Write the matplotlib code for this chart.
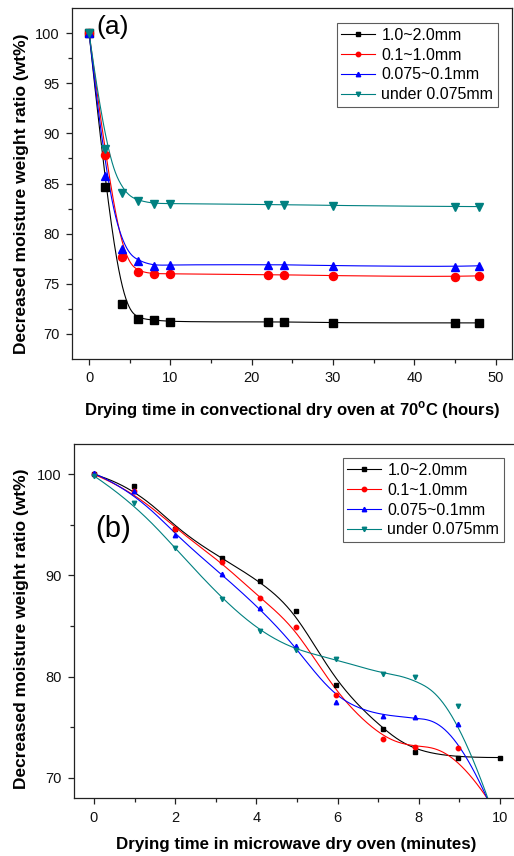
import numpy as np
import matplotlib
matplotlib.use("Agg")
import matplotlib.pyplot as plt

plt.rcParams['font.family'] = ['Liberation Sans', 'DejaVu Sans']
plt.rcParams['mathtext.fontset'] = 'custom'
plt.rcParams['mathtext.rm'] = 'Liberation Sans'
plt.rcParams['mathtext.bf'] = 'Liberation Sans:bold'

# ---------------- data ----------------
series_labels = ["1.0~2.0mm", "0.1~1.0mm", "0.075~0.1mm", "under 0.075mm"]

# (a) convectional dry oven, hours
hours = [0, 2, 4, 6, 8, 10, 22, 24, 30, 45, 48]
a_coarse = [100, 84.7, 73.0, 71.5, 71.4, 71.2, 71.2, 71.2, 71.1, 71.1, 71.1]
a_medium = [100, 87.8, 77.7, 76.2, 76.0, 76.0, 75.9, 75.9, 75.8, 75.7, 75.8]
a_fine = [100, 85.7, 78.5, 77.3, 76.8, 76.9, 76.9, 76.9, 76.8, 76.7, 76.8]
a_finest = [100, 88.4, 84.1, 83.3, 83.0, 83.0, 82.9, 82.9, 82.8, 82.7, 82.7]

# (b) microwave dry oven, minutes
minutes = [0, 0.98, 2.0, 3.15, 4.08, 4.97, 5.97, 7.12, 7.9, 8.96, 10.0]
b_coarse = [100, 98.85, 94.6, 91.7, 89.45, 86.5, 79.2, 74.8, 72.5, 72.0, 72.0]
b_medium = [100, 98.35, 94.6, 91.3, 87.8, 84.9, 78.2, 73.8, 73.0, 72.9, 66.0]
b_fine = [100.1, 98.35, 94.0, 90.1, 86.75, 83.0, 77.5, 76.1, 76.0, 75.3, 65.0]
b_finest = [99.85, 97.2, 92.7, 87.7, 84.5, 82.6, 81.7, 80.25, 80.0, 77.1, 64.5]

colors = ["#000000", "#ff0000", "#0000ff", "#008080"]
markers = ["s", "o", "^", "v"]


def bspline(x, y, samples=600, k=3):
    """Clamped cubic B-spline using the data points as control points."""
    P = np.column_stack([x, y]).astype(float)
    n = len(P)
    t = np.concatenate([np.zeros(k + 1), np.arange(1, n - k), np.full(k + 1, n - k)]).astype(float)
    u = np.linspace(0, n - k, samples)
    u[-1] -= 1e-9
    N = np.zeros((samples, len(t) - 1))
    for i in range(len(t) - 1):
        N[:, i] = ((t[i] <= u) & (u < t[i + 1])).astype(float)
    for d in range(1, k + 1):
        Nn = np.zeros((samples, len(t) - 1 - d))
        for i in range(len(t) - 1 - d):
            term = np.zeros(samples)
            den1 = t[i + d] - t[i]
            den2 = t[i + d + 1] - t[i + 1]
            if den1 > 0:
                term += (u - t[i]) / den1 * N[:, i]
            if den2 > 0:
                term += (t[i + d + 1] - u) / den2 * N[:, i + 1]
            Nn[:, i] = term
        N = Nn
    C = N @ P
    return C[:, 0], C[:, 1]


W, H = 514, 856
fig = plt.figure(figsize=(W / 100, H / 100), dpi=100)

spine_col = "#222222"


def style_axes(ax):
    for s in ax.spines.values():
        s.set_color(spine_col)
        s.set_linewidth(0.9)
    ax.tick_params(which='both', direction='out', top=False, right=False,
                   colors=spine_col, labelcolor='#111111', labelsize=10.5)
    ax.tick_params(which='major', length=4.5, width=0.9, pad=4.5)
    ax.tick_params(which='minor', length=3, width=0.9)


# ---------------- panel (a) ----------------
axa = fig.add_axes([72 / W, 1 - 359 / H, 440 / W, 351 / H])
a_series = [a_coarse, a_medium, a_fine, a_finest]
for ys, c, m, lab in zip(a_series, colors, markers, series_labels):
    sx, sy = bspline(hours, ys)
    axa.plot(sx, sy, color=c, lw=0.8, zorder=2)
    axa.plot(hours, ys, linestyle='none', marker=m, color=c, markersize=5.8, zorder=3)
    axa.plot([], [], color=c, lw=0.8, marker=m, markersize=3.2, label=lab)
axa.set_xlim(-2.1, 52)
axa.set_ylim(67.5, 102.5)
axa.set_xticks([0, 10, 20, 30, 40, 50])
axa.set_xticks([5, 15, 25, 35, 45], minor=True)
axa.set_yticks([70, 75, 80, 85, 90, 95, 100])
axa.set_yticks([72.5, 77.5, 82.5, 87.5, 92.5, 97.5], minor=True)
style_axes(axa)
leg = axa.legend(loc='upper right', bbox_to_anchor=(0.968, 0.957), borderaxespad=0,
                 fontsize=11.5, handlelength=2.1, handletextpad=0.4, labelspacing=0.3,
                 borderpad=0.3, frameon=True, fancybox=False)
leg.get_frame().set_edgecolor('#333333')
leg.get_frame().set_linewidth(0.8)
fig.text(113 / W, 1 - 27 / H, "(a)", fontsize=19, ha='center', va='center')
fig.text(22 / W, 1 - 194 / H, "Decreased moisture weight ratio (wt%)", rotation=90,
         fontsize=12.5, fontweight='bold', ha='center', va='center')
fig.text(292 / W, 1 - 410 / H,
         r"Drying time in convectional dry oven at 70$^{\mathbf{o}}$C (hours)",
         fontsize=12, fontweight='bold', ha='center', va='center')

# ---------------- panel (b) ----------------
axb = fig.add_axes([74 / W, 1 - 798 / H, 441 / W, 354 / H])
b_series = [b_coarse, b_medium, b_fine, b_finest]
for ys, c, m, lab in zip(b_series, colors, markers, series_labels):
    sx, sy = bspline(minutes, ys)
    axb.plot(sx, sy, color=c, lw=0.8, zorder=2)
    axb.plot(minutes, ys, linestyle='none', marker=m, color=c, markersize=3.2, zorder=3)
    axb.plot([], [], color=c, lw=0.8, marker=m, markersize=3.2, label=lab)
axb.set_xlim(-0.49, 10.37)
axb.set_ylim(68.0, 103.0)
axb.set_xticks([0, 2, 4, 6, 8, 10])
axb.set_xticks([1, 3, 5, 7, 9], minor=True)
axb.set_yticks([70, 80, 90, 100])
axb.set_yticks([75, 85, 95], minor=True)
style_axes(axb)
leg = axb.legend(loc='upper right', bbox_to_anchor=(0.975, 0.960), borderaxespad=0,
                 fontsize=11.5, handlelength=2.1, handletextpad=0.4, labelspacing=0.3,
                 borderpad=0.3, frameon=True, fancybox=False)
leg.get_frame().set_edgecolor('#333333')
leg.get_frame().set_linewidth(0.8)
fig.text(113 / W, 1 - 529 / H, "(b)", fontsize=21, ha='center', va='center')
fig.text(22 / W, 1 - 629 / H, "Decreased moisture weight ratio (wt%)", rotation=90,
         fontsize=12.5, fontweight='bold', ha='center', va='center')
fig.text(296 / W, 1 - 845 / H, "Drying time in microwave dry oven (minutes)",
         fontsize=12.2, fontweight='bold', ha='center', va='center')

fig.savefig("out.png", dpi=100)
